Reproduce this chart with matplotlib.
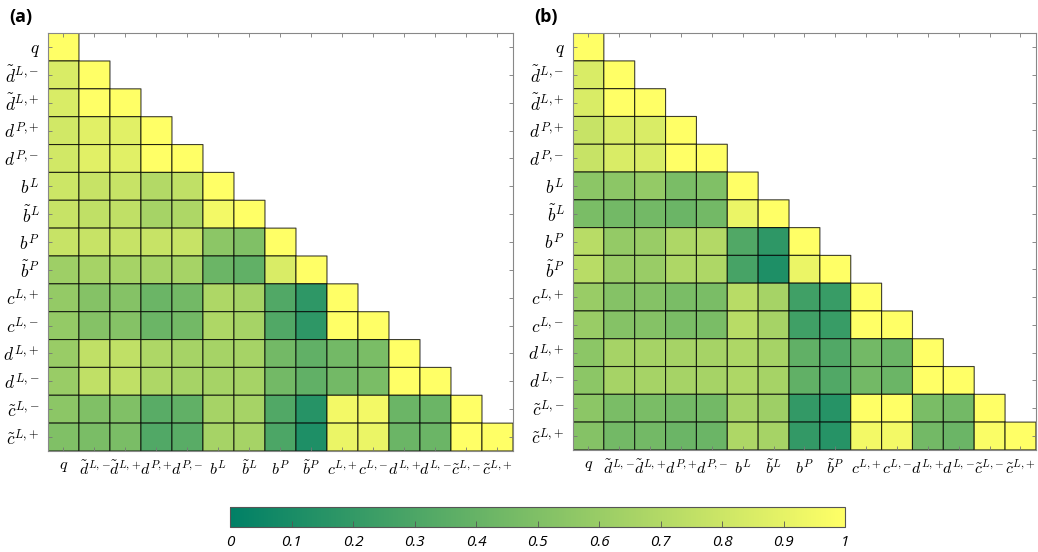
import numpy as np
import matplotlib.pyplot as plt
from matplotlib.colors import Normalize

plt.rcParams['mathtext.fontset'] = 'cm'

labels = [r'$q$', r'$\tilde{d}^{L,\!-}$', r'$\tilde{d}^{L,\!+}$', r'$d^{P,\!+}$', r'$d^{P,\!-}$',
          r'$b^{L}$', r'$\tilde{b}^{L}$', r'$b^{P}$', r'$\tilde{b}^{P}$',
          r'$c^{L,\!+}$', r'$c^{L,\!-}$', r'$d^{L,\!+}$', r'$d^{L,\!-}$',
          r'$\tilde{c}^{L,\!-}$', r'$\tilde{c}^{L,\!+}$']

# lower triangle, row by row (diagonal included)
rows_a = [
    [1.0],
    [0.85, 1.0],
    [0.85, 1.0, 1.0],
    [0.82, 0.88, 0.88, 1.0],
    [0.82, 0.88, 0.88, 1.0, 1.0],
    [0.80, 0.78, 0.78, 0.70, 0.75, 1.0],
    [0.78, 0.75, 0.75, 0.65, 0.68, 0.95, 1.0],
    [0.78, 0.78, 0.78, 0.78, 0.78, 0.55, 0.50, 1.0],
    [0.62, 0.65, 0.65, 0.65, 0.65, 0.42, 0.38, 0.85, 1.0],
    [0.58, 0.52, 0.52, 0.42, 0.45, 0.68, 0.65, 0.32, 0.18, 1.0],
    [0.58, 0.52, 0.52, 0.42, 0.45, 0.68, 0.65, 0.32, 0.18, 1.0, 1.0],
    [0.60, 0.75, 0.75, 0.68, 0.65, 0.65, 0.65, 0.45, 0.38, 0.45, 0.48, 1.0],
    [0.60, 0.75, 0.75, 0.68, 0.65, 0.65, 0.65, 0.45, 0.38, 0.45, 0.48, 1.0, 1.0],
    [0.55, 0.50, 0.50, 0.35, 0.38, 0.65, 0.65, 0.32, 0.15, 0.95, 0.95, 0.42, 0.42, 1.0],
    [0.50, 0.48, 0.48, 0.32, 0.35, 0.65, 0.65, 0.30, 0.12, 0.92, 0.92, 0.42, 0.42, 1.0, 1.0],
]

rows_b = [
    [1.0],
    [0.85, 1.0],
    [0.85, 1.0, 1.0],
    [0.78, 0.85, 0.85, 1.0],
    [0.78, 0.85, 0.85, 1.0, 1.0],
    [0.55, 0.55, 0.58, 0.48, 0.50, 1.0],
    [0.48, 0.45, 0.45, 0.42, 0.45, 0.92, 1.0],
    [0.72, 0.58, 0.60, 0.68, 0.70, 0.32, 0.18, 1.0],
    [0.72, 0.60, 0.60, 0.68, 0.68, 0.28, 0.12, 0.92, 1.0],
    [0.60, 0.52, 0.52, 0.48, 0.48, 0.72, 0.65, 0.25, 0.22, 1.0],
    [0.60, 0.52, 0.52, 0.48, 0.48, 0.72, 0.65, 0.25, 0.22, 1.0, 1.0],
    [0.55, 0.65, 0.65, 0.65, 0.65, 0.68, 0.65, 0.38, 0.32, 0.45, 0.42, 1.0],
    [0.55, 0.65, 0.65, 0.65, 0.65, 0.68, 0.65, 0.38, 0.32, 0.45, 0.42, 1.0, 1.0],
    [0.55, 0.48, 0.48, 0.45, 0.45, 0.65, 0.62, 0.20, 0.15, 1.0, 1.0, 0.48, 0.45, 1.0],
    [0.52, 0.45, 0.45, 0.42, 0.42, 0.68, 0.65, 0.20, 0.15, 0.95, 0.95, 0.45, 0.42, 0.98, 1.0],
]

cbar_ticks = [0, 0.1, 0.2, 0.3, 0.4, 0.5, 0.6, 0.7, 0.8, 0.9, 1]
cbar_labels = ['0', '0.1', '0.2', '0.3', '0.4', '0.5', '0.6', '0.7', '0.8', '0.9', '1']


def to_matrix(rows):
    n = len(rows)
    m = np.full((n, n), np.nan)
    for i, r in enumerate(rows):
        m[i, :len(r)] = r
    return np.ma.masked_invalid(m)


fig = plt.figure(figsize=(10.38, 5.52), dpi=100)
norm = Normalize(0, 1)
cmap = plt.get_cmap('summer')

positions = [[0.0462, 0.183, 0.448, 0.757], [0.552, 0.185, 0.446, 0.755]]
for pos, rows, tag in zip(positions, [rows_a, rows_b], ['(a)', '(b)']):
    ax = fig.add_axes(pos)
    m = to_matrix(rows)
    # pcolor drops masked cells, so the empty upper triangle gets no edges
    ax.pcolor(m, cmap=cmap, norm=norm, edgecolors=(0, 0, 0, 0.75), linewidth=0.8)
    n = len(labels)
    ax.set_xlim(0, n)
    ax.set_ylim(n, 0)
    ticks = np.arange(n) + 0.5
    ax.set_xticks(ticks)
    ax.set_yticks(ticks)
    ax.set_xticklabels(labels, fontsize=11.5)
    ax.set_yticklabels(labels, fontsize=12.5)
    ax.tick_params(direction='in', length=3, width=0.6, color='#777777',
                   top=True, right=True, pad=6)
    for s in ax.spines.values():
        s.set_color('#888888')
        s.set_linewidth(0.8)
    fig.text(pos[0] - 0.037, 0.985, tag, fontsize=13, fontweight='bold',
             family='Open Sans', va='top', ha='left')

cax = fig.add_axes([0.2216, 0.0453, 0.5925, 0.036])
sm = plt.cm.ScalarMappable(norm=norm, cmap=cmap)
cb = fig.colorbar(sm, cax=cax, orientation='horizontal')
cb.set_ticks(cbar_ticks)
cb.set_ticklabels(cbar_labels)
cax.tick_params(direction='in', length=4, width=0.6, color='#555555', labelsize=11, pad=6)
for t in cax.get_xticklabels():
    t.set_fontstyle('italic')
    t.set_family('Open Sans')
cb.outline.set_edgecolor('#555555')
cb.outline.set_linewidth(0.8)

fig.savefig('out.png', dpi=100)
